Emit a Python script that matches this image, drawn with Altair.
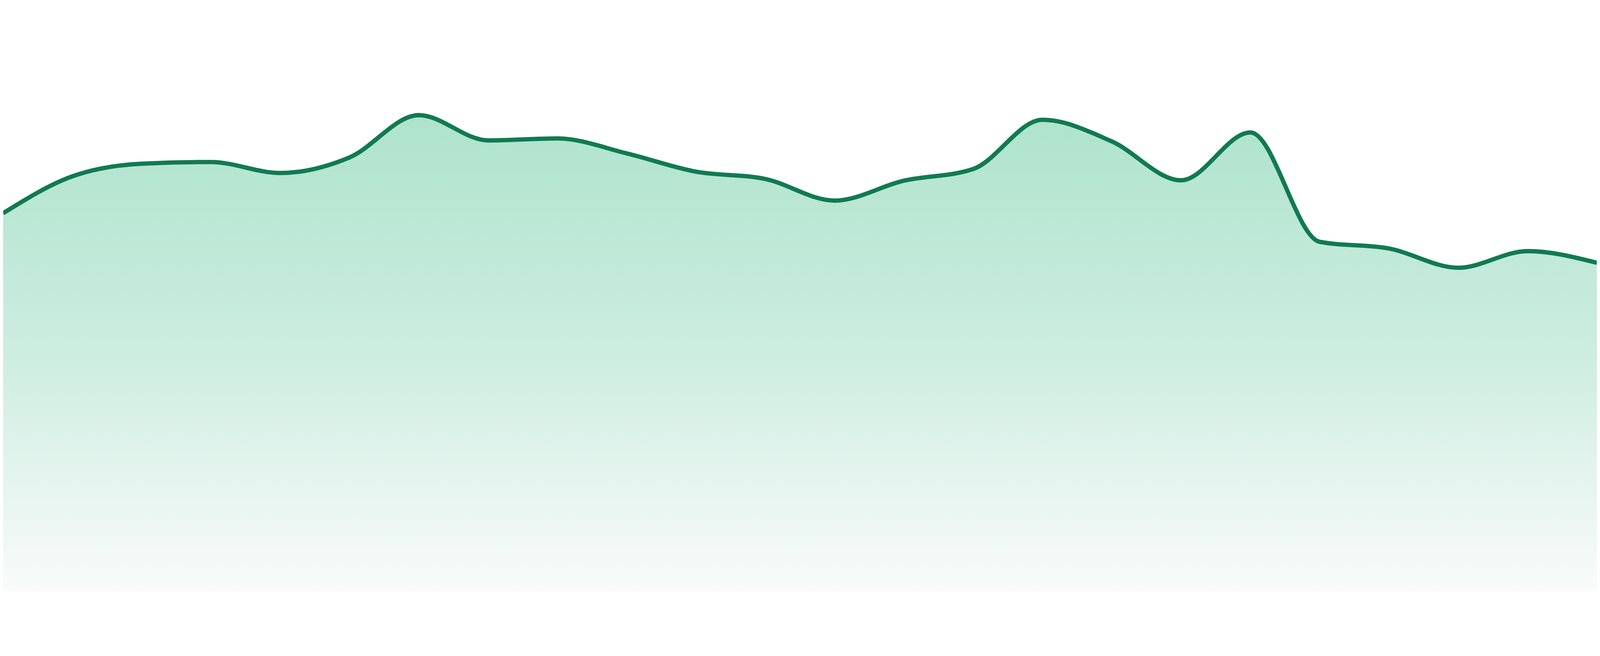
import altair as alt
import pandas as pd

# positions along the series (evenly spaced points)
points = [0, 1, 2, 3, 4, 5, 6, 7, 8, 9, 10, 11, 12, 13, 14, 15, 16, 17, 18, 19, 20, 21, 22, 23]
# series values
values = [1137, 1248, 1286, 1291, 1258, 1305, 1432, 1356, 1362, 1317, 1262, 1240,
          1175, 1235, 1270, 1418, 1353, 1236, 1380, 1051, 1031, 973, 1023, 988]

df = pd.DataFrame({"p": points, "v": values})

W = 4792
H = 1627

x = alt.X("p:Q", axis=None, scale=alt.Scale(domain=[0, 23], nice=False, zero=False))
y = alt.Y("v:Q", axis=None, scale=alt.Scale(domain=[0, 1627], nice=False, zero=True))

area = alt.Chart(df).mark_area(
    interpolate="monotone",
    line=False,
    color=alt.Gradient(
        gradient="linear",
        x1=0, y1=0, x2=0, y2=1,
        stops=[
            alt.GradientStop(offset=0, color="#aee3cc"),
            alt.GradientStop(offset=0.5, color="#cdede1"),
            alt.GradientStop(offset=1, color="#f9fbfa"),
        ],
    ),
).encode(x=x, y=y)

line = alt.Chart(df).mark_line(
    interpolate="monotone",
    color="#117a52",
    strokeWidth=13,
).encode(x=x, y=y)

chart = (area + line).properties(
    width=W, height=H, padding=0, autosize=alt.AutoSizeParams(type="none"),
    background="white",
).configure_view(stroke=None)

chart.save("out.html", embed_options={"renderer": "svg", "actions": False})
